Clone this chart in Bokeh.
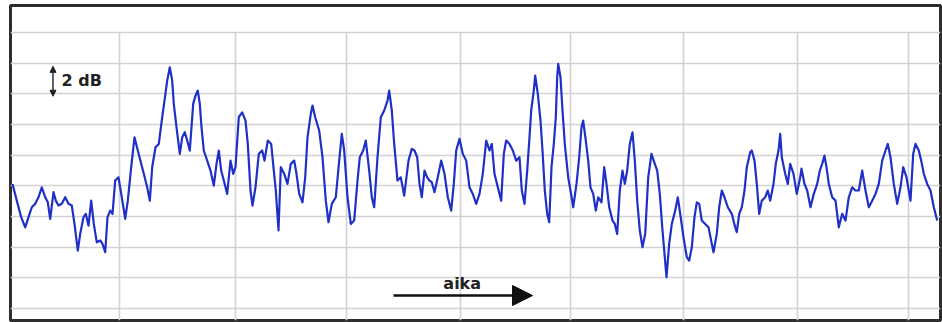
from bokeh.plotting import figure
from bokeh.models import Range1d, FixedTicker, Arrow, NormalHead, Label, Grid
from bokeh.embed import file_html
from bokeh.resources import INLINE

# time (arbitrary units) and received level (dB)
t = [
    12, 16.3, 20.7, 24.7, 28, 31.3, 34.7, 38, 41.3, 44.7,
    47.3, 49.7, 53, 55.3, 58, 61.3, 64.7, 68, 71.3, 74,
    77.3, 79.7, 83, 85.3, 88, 90.7, 93.3, 96.3, 99.7, 102,
    104.7, 107, 109.7, 112, 114.7, 118, 121.3, 124.7, 127.3, 130.7,
    134, 137.3, 140.7,
    143.3, 146.7, 149.3, 151.7, 155, 158.3, 161.7, 164, 166.7, 169.3,
    171.7, 173.3, 176, 179.3, 181.7, 184.3, 186.7, 189.3, 192.7, 195,
    197.3, 199.3, 201, 203.3, 206.7, 210, 213.3, 216, 218.3, 220.7,
    223.3, 226.7, 230, 232.7, 235, 238.3, 241.7, 245, 247.3, 250,
    252, 255, 258.3, 261.7, 264, 267.3, 270.7, 273.3,
    275.3, 278, 280.3, 283.7, 287, 290.3, 293.7, 296, 298.7, 302,
    304.7, 307, 310.3, 312, 314.7, 318.7, 322, 325.3, 328, 331.3,
    335.3, 338.7, 341.3, 343.7, 347, 350.3, 353.7, 357, 359.3, 362.7,
    365.3, 368.7, 371.3, 373.7, 377, 380.3, 383.7, 387, 388.7, 391.3,
    393.7, 397, 400.3, 403.7,
    408, 411.3, 414, 416.7, 419, 421.3, 424, 426.7, 429, 431.3,
    434, 437.3, 440.7, 444, 447.3, 450.7, 453.3, 455.7, 459, 462.3,
    465.7, 469, 472.3, 475.7, 479, 482.3, 485.7, 489, 491.3, 494,
    497.3, 500.7, 503.3, 505.7, 509, 512.3, 515.7, 519, 521.3, 524,
    526.7, 529, 530.7, 533.3, 534.7, 537.3, 540, 542, 544.3, 546.7,
    548.7, 551, 553.3, 555.3, 556.7, 557.7, 560, 562, 564.3, 567.7,
    570, 572.7, 576, 578.7, 581, 582.7, 585.3, 587.7, 590, 592.7,
    595.3, 597.7, 601, 603.7, 606, 608.7, 612, 614.3, 616.7, 619.3,
    622, 624.3, 626.7, 629.3, 632, 634.3, 636.7, 639.3, 642, 644.7,
    647.7, 651, 654.3, 656.7, 659.3, 662, 664.3, 666, 668.7,
    671.3, 674.7, 677.3, 679.7, 683, 686.3, 688.7, 691.3, 694, 696.3,
    698.7, 701.3, 704.7, 708, 711.3, 713, 716.3, 718.7, 721.3, 724,
    727.3, 731.3, 734.7, 736.3, 738.7, 741.3, 744, 746.3, 749.7, 751.3,
    754, 756.3, 758.7, 761.3, 764.7, 767.3, 769.7, 773, 775.3, 778,
    779.7, 781.3, 784.7, 787.3, 789.7, 793, 796.3, 799.7, 801, 804,
    806.7, 810, 813.3, 816.7, 819.3, 821.7, 824, 826, 828.3, 831.7,
    835, 838.3, 841.7, 845, 848.3, 851.7, 855, 858.3, 861.7, 865,
    868.3, 871.7, 875, 878.3, 881.7, 885, 887.3, 890, 893.3, 896.7,
    900, 902.7, 906, 910, 912.7, 915, 918.3, 920.7, 923.3, 926.7,
    930, 933.3, 936.7,
]

level_db = [
    8.13, 7.04, 5.96, 5.30, 5.96, 6.61, 6.83, 7.26, 7.91, 7.26,
    6.93, 5.85, 7.59, 7.04, 6.72, 6.83, 7.26, 6.83, 6.72, 5.52,
    3.78, 4.87, 5.96, 6.18, 5.41, 7.04, 5.52, 4.32, 4.44, 4.22,
    3.67, 5.96, 6.39, 6.18, 8.35, 8.56, 7.26, 5.85, 7.04, 9.22,
    11.17, 10.31, 9.44,
    8.79, 7.91, 7.04, 9.22, 10.52, 10.74, 12.48, 13.57, 14.87, 15.74,
    14.87, 13.35, 11.83, 10.09, 11.17, 11.50, 10.96, 10.31, 13.35, 13.89,
    14.22, 13.35, 11.83, 10.31, 9.65, 9.00, 8.02, 9.44, 10.31, 9.00,
    8.35, 7.48, 9.65, 8.79, 9.22, 12.48, 12.80, 12.26, 10.74, 7.70,
    6.72, 7.91, 10.09, 10.31, 9.65, 10.96, 10.74, 9.00,
    7.70, 5.09, 9.22, 8.79, 8.13, 9.44, 9.65, 8.79, 7.48, 6.93,
    8.56, 11.17, 12.70, 13.24, 12.48, 11.61, 9.87, 7.04, 5.63, 6.83,
    7.26, 9.65, 11.40, 10.31, 7.26, 5.52, 5.74, 8.35, 9.87, 10.31,
    10.96, 9.00, 7.26, 6.61, 9.87, 12.48, 12.92, 13.57, 14.22, 12.92,
    10.74, 8.35, 8.56, 7.37,
    9.65, 10.42, 10.31, 9.87, 8.13, 7.26, 9.00, 8.56, 8.35, 8.24,
    7.59, 8.56, 9.65, 8.79, 7.26, 6.39, 8.13, 10.31, 11.07, 10.09,
    9.65, 7.91, 7.48, 6.83, 7.48, 8.79, 10.96, 10.31, 10.74, 8.79,
    7.91, 7.04, 10.09, 10.96, 10.74, 10.31, 9.65, 9.87, 7.70, 6.83,
    9.00, 11.17, 12.92, 14.22, 15.20, 14.00, 12.26, 10.31, 7.70, 6.18,
    5.63, 9.22, 10.74, 12.48, 15.09, 15.96, 15.09, 12.92, 10.74, 8.56,
    7.70, 6.61, 8.13, 9.87, 11.83, 12.26, 10.96, 9.65, 7.91, 7.48,
    6.39, 7.26, 6.93, 9.22, 8.13, 6.61, 5.74, 5.52, 4.87, 7.70,
    9.00, 8.13, 9.00, 10.74, 11.50, 9.65, 7.04, 5.09, 4.00, 4.87,
    8.56, 10.09, 9.44, 9.00, 7.48, 5.09, 3.35, 2.04, 4.22,
    5.52, 6.39, 7.26, 6.18, 4.65, 3.35, 3.13, 4.00, 5.96, 6.93,
    6.83, 5.74, 5.52, 5.30, 4.22, 3.67, 4.87, 6.61, 7.70, 7.26,
    6.61, 6.18, 5.30, 4.98, 6.18, 6.61, 7.70, 9.22, 10.20, 10.31,
    9.65, 8.13, 6.18, 7.04, 7.26, 7.70, 7.04, 8.13, 9.44, 10.31,
    11.40, 9.87, 8.79, 8.13, 9.44, 8.79, 7.48, 8.56, 9.13, 8.13,
    7.70, 6.61, 7.48, 8.13, 9.00, 9.44, 9.98, 9.22, 8.13, 7.26,
    7.04, 5.30, 6.18, 5.74, 7.26, 7.91, 7.70, 7.70, 9.00, 7.70,
    6.61, 7.04, 7.48, 8.13, 9.65, 10.31, 10.74, 9.87, 8.13, 6.83,
    7.91, 9.22, 8.56, 7.04, 10.09, 10.74, 10.31, 9.65, 8.79, 8.13,
    7.70, 6.61, 5.74,
]

assert len(t) == len(level_db)

grid_db = [0, 2, 4, 6, 8, 10, 12, 14, 16, 18]
time_grid = [119, 235, 346, 460, 570, 683, 797, 908]
scale_bar_db = [13.85, 15.8]   # the "2 dB" scale marker
time_arrow = [393, 532]

GRID = "#d2d2d2"

p = figure(
    width=942, height=322,
    x_range=Range1d(10, 940), y_range=Range1d(-0.78, 19.77),
    x_axis_type=None, y_axis_type=None,
    output_backend="svg", toolbar_location=None,
    min_border_left=10, min_border_right=2, min_border_top=5, min_border_bottom=2,
    background_fill_color="white", border_fill_color="white",
    styles={"position": "absolute", "top": "0px", "left": "0px"},
)
p.outline_line_color = "#2e2e2e"
p.outline_line_width = 3

hgrid = Grid(dimension=1, ticker=FixedTicker(ticks=grid_db),
             grid_line_color=GRID, grid_line_width=1.6)
p.add_layout(hgrid)

p.segment(x0=time_grid, y0=[grid_db[-1]] * len(time_grid),
          x1=time_grid, y1=[p.y_range.start] * len(time_grid),
          line_color=GRID, line_width=1.6)

p.line(t, level_db, line_color="#1f2fc8", line_width=2.2, line_join="round")

# "2 dB" scale marker
p.add_layout(Arrow(
    start=NormalHead(size=6, fill_color="#222222", line_color="#222222"),
    end=NormalHead(size=6, fill_color="#222222", line_color="#222222"),
    x_start=52.5, x_end=52.5, y_start=scale_bar_db[0], y_end=scale_bar_db[1],
    line_color="#222222", line_width=1.4))
p.add_layout(Label(x=61, y=14.87, text="2 dB", text_font="DejaVu Sans",
                   text_font_style="bold", text_font_size="16px",
                   text_color="#222222", text_baseline="middle", text_align="left"))

# time arrow
p.add_layout(Arrow(
    end=NormalHead(size=20, fill_color="#111111", line_color="#111111"),
    x_start=time_arrow[0], x_end=time_arrow[1], y_start=0.85, y_end=0.85,
    line_color="#111111", line_width=2.5))
p.add_layout(Label(x=461.7, y=1.62, text="aika", text_font="DejaVu Sans",
                   text_font_style="bold", text_font_size="16px",
                   text_color="#222222", text_baseline="alphabetic", text_align="center"))

open("out.html", "w").write(file_html(p, INLINE))
